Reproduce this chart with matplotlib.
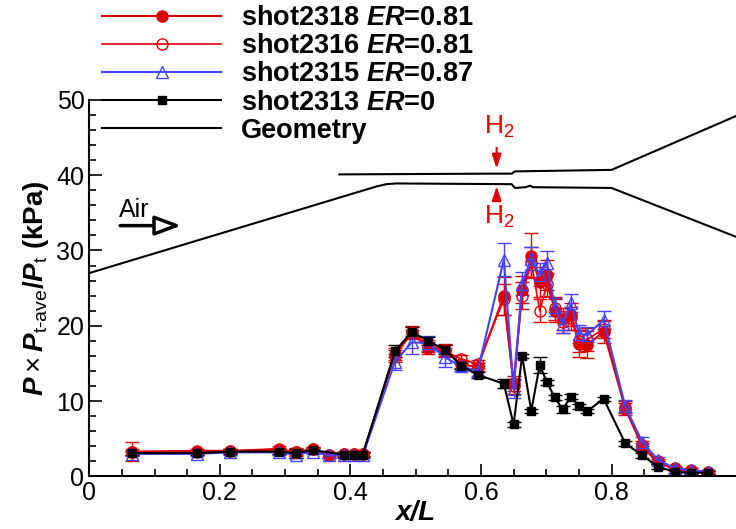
import matplotlib
matplotlib.use("Agg")
import matplotlib.pyplot as plt
from matplotlib.lines import Line2D
from matplotlib.ticker import MultipleLocator

plt.rcParams['font.family'] = ['Liberation Sans', 'DejaVu Sans']
plt.rcParams['mathtext.fontset'] = 'custom'
plt.rcParams['mathtext.rm'] = 'Liberation Sans'
plt.rcParams['mathtext.it'] = 'Liberation Sans:italic:bold'
plt.rcParams['mathtext.bf'] = 'Liberation Sans:bold'

# sensor positions x/L
x_pos = [0.065, 0.165, 0.216, 0.290, 0.317, 0.342, 0.367, 0.390, 0.405, 0.419,
         0.468, 0.494, 0.519, 0.545, 0.570, 0.595, 0.635, 0.650, 0.663, 0.677,
         0.690, 0.701, 0.713, 0.725, 0.738, 0.750, 0.763, 0.788, 0.821, 0.847,
         0.871, 0.897, 0.922, 0.948]

# shot2318 ER=0.81
p2318 = [3.3, 3.4, 3.4, 3.5, 3.3, 3.6, 2.8, 3.0, 3.0, 3.0,
         16.3, 19.2, 17.3, 16.8, 14.9, 14.5, 24.0, 12.4, 24.8, 29.3,
         25.8, 26.8, 22.0, 20.9, 21.5, 17.6, 17.5, 19.2, 9.0, 4.0,
         1.8, 1.0, 0.7, 0.5]
e2318 = [1.3, 0.3, 0.3, 0.3, 0.5, 0.3, 0.3, 0.3, 0.3, 0.3,
         0.8, 0.8, 0.8, 0.8, 0.5, 0.5, 2.5, 1.0, 1.8, 3.0,
         2.0, 2.0, 1.5, 1.5, 1.5, 1.8, 1.8, 1.5, 0.8, 0.5,
         0.3, 0.2, 0.2, 0.2]

# shot2316 ER=0.81
p2316 = [3.2, 3.3, 3.4, 3.7, 3.2, 3.6, 2.9, 3.0, 3.0, 3.0,
         16.0, 19.0, 17.0, 16.6, 15.6, 14.9, 23.5, 12.0, 24.0, 28.5,
         22.0, 25.5, 22.3, 20.5, 21.0, 18.0, 18.2, 19.6, 9.2, 4.2,
         2.0, 1.1, 0.9, 0.6]
e2316 = [0.4, 0.3, 0.3, 0.3, 0.5, 0.3, 0.3, 0.3, 0.3, 0.3,
         0.8, 0.8, 0.8, 0.8, 0.5, 0.5, 2.0, 1.0, 1.8, 2.0,
         1.5, 1.5, 1.5, 1.5, 1.5, 1.5, 1.5, 1.2, 0.8, 0.5,
         0.3, 0.2, 0.2, 0.2]

# shot2315 ER=0.87
p2315 = [3.0, 3.0, 3.2, 3.2, 2.9, 3.3, 2.8, 2.8, 2.8, 2.8,
         15.2, 17.8, 17.7, 15.8, 14.6, 14.0, 28.8, 11.6, 25.6, 28.9,
         26.8, 28.4, 22.5, 20.2, 23.0, 18.9, 18.8, 20.8, 9.3, 4.6,
         2.2, 1.1, 0.8, 0.6]
e2315 = [0.3, 0.3, 0.3, 0.3, 0.5, 0.3, 0.3, 0.3, 0.3, 0.3,
         1.0, 1.6, 1.0, 1.3, 0.6, 0.6, 2.2, 1.2, 1.5, 1.5,
         1.5, 1.5, 1.2, 1.2, 1.2, 1.2, 1.0, 1.2, 0.8, 0.6,
         0.4, 0.3, 0.3, 0.3]

# shot2313 ER=0
x2313 = [0.065, 0.165, 0.216, 0.290, 0.317, 0.342, 0.390, 0.405, 0.419,
         0.468, 0.494, 0.519, 0.545, 0.570, 0.595, 0.635, 0.650, 0.663, 0.677,
         0.690, 0.701, 0.713, 0.725, 0.738, 0.750, 0.763, 0.788, 0.821, 0.847,
         0.871, 0.897, 0.922, 0.948]
p2313 = [3.1, 3.1, 3.3, 3.3, 3.1, 3.5, 2.9, 2.9, 2.9,
         16.6, 19.2, 18.0, 16.8, 14.7, 13.5, 12.3, 6.9, 16.0, 8.7,
         14.8, 12.5, 10.5, 8.9, 10.6, 9.3, 8.7, 10.3, 4.4, 2.8,
         1.3, 0.6, 0.5, 0.5]
e2313 = [0.3, 0.3, 0.3, 0.3, 0.6, 0.3, 0.3, 0.3, 0.3,
         0.8, 0.6, 0.5, 0.6, 0.4, 0.4, 0.6, 0.3, 0.3, 0.3,
         1.1, 0.3, 0.3, 0.5, 0.3, 0.3, 0.3, 0.3, 0.3, 0.3,
         0.3, 0.2, 0.2, 0.2]

# geometry (scaled combustor walls)
geo_low_x = [0.0, 0.44, 0.455, 0.47, 0.647, 0.652, 0.668, 0.675, 0.68, 0.80, 1.0]
geo_low_y = [27.0, 38.5, 38.8, 38.9, 38.8, 38.3, 38.4, 38.6, 38.4, 38.3, 31.5]
geo_up_x = [0.383, 0.62, 0.647, 0.652, 0.80, 1.0]
geo_up_y = [40.1, 40.2, 40.2, 40.5, 40.7, 48.2]

red = '#dd0000'
blue = '#4444ff'

fig = plt.figure(figsize=(7.36, 5.29), dpi=100)
ax = fig.add_axes([0.1213, 0.0993, 0.887, 0.712])

ax.plot(geo_low_x, geo_low_y, color='black', lw=1.5)
ax.plot(geo_up_x, geo_up_y, color='black', lw=1.5)

ax.errorbar(x_pos, p2318, yerr=e2318, color=red, marker='o', ms=8, lw=1.5,
            elinewidth=1, capsize=5)
ax.errorbar(x_pos, p2316, yerr=e2316, color=red, marker='o', mfc='none', ms=8,
            lw=1.2, elinewidth=1, capsize=5)
ax.errorbar(x_pos, p2315, yerr=e2315, color=blue, marker='^', mfc='none', ms=8,
            lw=1.5, elinewidth=1, capsize=5)
ax.errorbar(x2313, p2313, yerr=e2313, color='black', marker='s', ms=6, lw=1.5,
            elinewidth=1, capsize=5)

# H2 injection arrows
ax.annotate('', xy=(0.624, 40.5), xytext=(0.624, 44.0),
            arrowprops=dict(arrowstyle='-|>,head_length=0.6,head_width=0.2',
                            color=red, lw=1.5, mutation_scale=14))
ax.annotate('', xy=(0.624, 38.9), xytext=(0.624, 36.8),
            arrowprops=dict(arrowstyle='-|>,head_length=0.6,head_width=0.2',
                            color=red, lw=1.5, mutation_scale=14))
ax.text(0.628, 46.4, 'H$_{2}$', color=red, fontsize=19, ha='center', va='center')
ax.text(0.628, 34.5, 'H$_{2}$', color=red, fontsize=19, ha='center', va='center')

# air inflow arrow
ax.annotate('', xy=(0.145, 33.3), xytext=(0.043, 33.3),
            arrowprops=dict(arrowstyle='-|>,head_length=0.8,head_width=0.3',
                            lw=2.5, fc='white', ec='black', mutation_scale=20))
ax.text(0.046, 35.4, 'Air', fontsize=18, ha='left', va='center')

ax.set_xlim(0, 1)
ax.set_ylim(0, 50)
ax.xaxis.set_major_locator(MultipleLocator(0.2))
ax.xaxis.set_minor_locator(MultipleLocator(0.05))
ax.yaxis.set_major_locator(MultipleLocator(10))
ax.yaxis.set_minor_locator(MultipleLocator(2))
ax.xaxis.set_major_formatter(plt.FuncFormatter(lambda v, p: '%g' % v))
ax.tick_params(which='both', direction='in', labelsize=18, width=1.2)
ax.tick_params(which='major', length=9)
ax.tick_params(which='minor', length=5)
ax.spines['top'].set_visible(False)
ax.spines['right'].set_visible(False)
ax.spines['left'].set_linewidth(1.5)
ax.spines['bottom'].set_linewidth(1.5)

ax.set_xlabel('x/L', fontsize=20, fontweight='bold', style='italic', labelpad=-4)
ax.set_ylabel(r'$P\times P_{\mathrm{t\text{-}ave}}\mathbf{/}P_{\mathrm{t}}$ (kPa)',
              fontsize=20, fontweight='bold', labelpad=4)

handles = [
    Line2D([], [], color=red, marker='o', ms=8, lw=1.5),
    Line2D([], [], color=red, marker='o', mfc='none', ms=8, lw=1.2),
    Line2D([], [], color=blue, marker='^', mfc='none', ms=8, lw=1.5),
    Line2D([], [], color='black', marker='s', ms=6, lw=1.5),
    Line2D([], [], color='black', lw=1.5),
]
labels = ['shot2318 $ER$=0.81', 'shot2316 $ER$=0.81', 'shot2315 $ER$=0.87',
          'shot2313 $ER$=0', 'Geometry']
fig.legend(handles, labels, loc='upper left', bbox_to_anchor=(102 / 736, 1 - 5 / 529),
           frameon=False, numpoints=1, handlelength=4.4, handletextpad=0.72,
           labelspacing=0.08, borderpad=0, borderaxespad=0,
           prop={'weight': 'bold', 'size': 19.5})

fig.savefig('out.png', dpi=100)
